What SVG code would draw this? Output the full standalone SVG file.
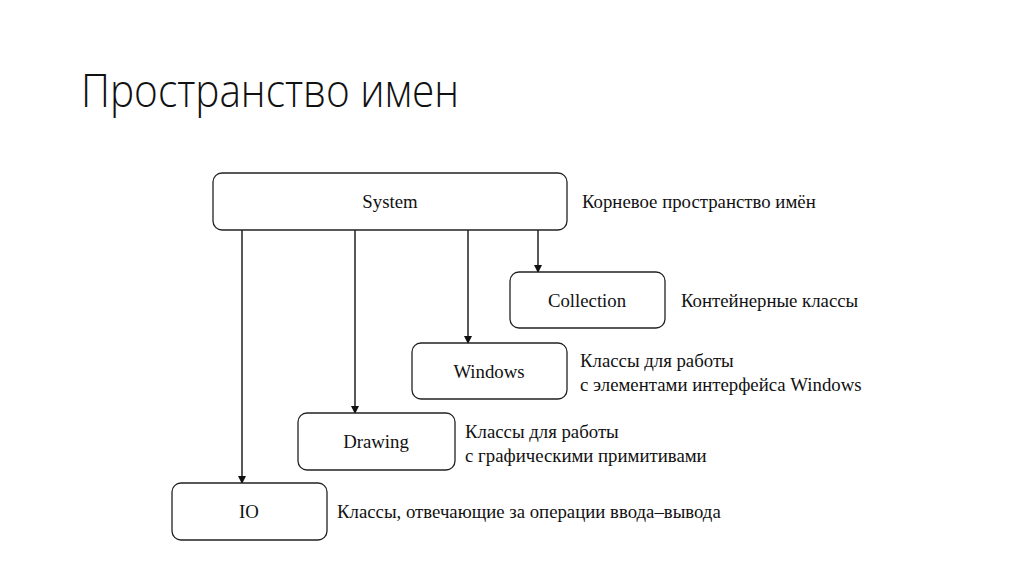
<svg xmlns="http://www.w3.org/2000/svg" width="1024" height="576" viewBox="0 0 1024 576">
<style>
.box{fill:#fff;stroke:#222;stroke-width:1.3}
.lbl{font-family:"Liberation Serif","Times New Roman",serif;font-size:18.8px;fill:#111;text-anchor:middle}
.note{font-family:"Liberation Serif","Times New Roman",serif;font-size:18.8px;fill:#111}
.title{font-family:"Open Sans","Noto Sans",sans-serif;font-weight:300;font-size:46px;fill:#111}
.conn{stroke:#111;stroke-width:1.4;fill:none}
</style>
<defs>
<marker id="arr" markerWidth="8" markerHeight="10" refX="7" refY="4" orient="auto" markerUnits="userSpaceOnUse">
<path d="M0,0 L8,4 L0,8 Z" fill="#111"/>
</marker>
</defs>
<rect width="1024" height="576" fill="#fff"/>
<text class="title" x="81" y="107" textLength="378" lengthAdjust="spacingAndGlyphs">Пространство имен</text>
<g id="connectors">
<line class="conn" x1="242" y1="230" x2="242" y2="483" marker-end="url(#arr)"/>
<line class="conn" x1="355" y1="230" x2="355" y2="413" marker-end="url(#arr)"/>
<line class="conn" x1="468" y1="230" x2="468" y2="343" marker-end="url(#arr)"/>
<line class="conn" x1="538" y1="230" x2="538" y2="272" marker-end="url(#arr)"/>
</g>
<g id="system">
<rect class="box" x="213" y="173" width="354" height="57" rx="9"/>
<text class="lbl" x="390" y="208">System</text>
<text class="note" x="582" y="208">Корневое пространство имён</text>
</g>
<g id="collection">
<rect class="box" x="510" y="272" width="155" height="56" rx="9"/>
<text class="lbl" x="587" y="307">Collection</text>
<text class="note" x="681" y="307">Контейнерные классы</text>
</g>
<g id="windows">
<rect class="box" x="412" y="343" width="155" height="56" rx="9"/>
<text class="lbl" x="489" y="378">Windows</text>
<text class="note" x="580" y="367">Классы для работы</text>
<text class="note" x="580" y="391">с элементами интерфейса Windows</text>
</g>
<g id="drawing">
<rect class="box" x="298" y="413" width="157" height="57" rx="9"/>
<text class="lbl" x="376" y="448">Drawing</text>
<text class="note" x="465" y="438">Классы для работы</text>
<text class="note" x="465" y="462">с графическими примитивами</text>
</g>
<g id="io">
<rect class="box" x="172" y="483" width="155" height="57" rx="9"/>
<text class="lbl" x="249" y="518">IO</text>
<text class="note" x="337" y="518">Классы, отвечающие за операции ввода–вывода</text>
</g>
</svg>
